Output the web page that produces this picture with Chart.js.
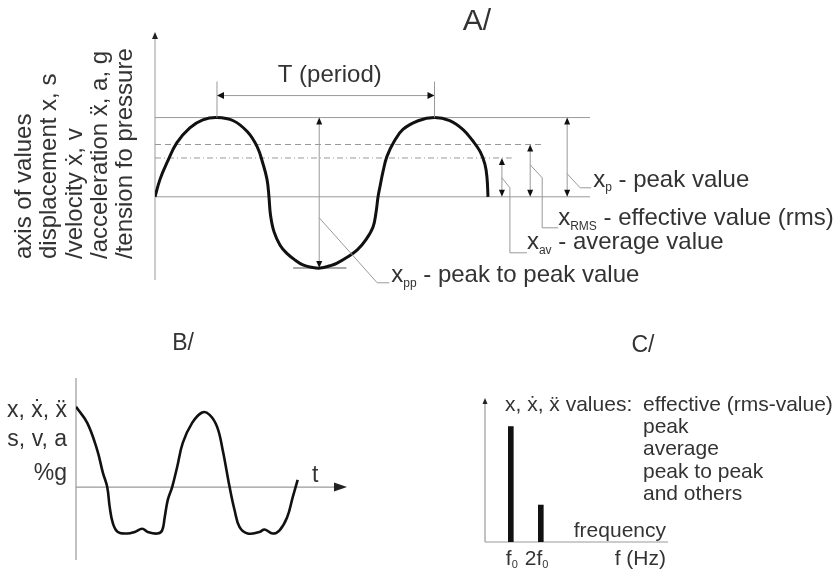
<!DOCTYPE html>
<html>
<head>
<meta charset="utf-8">
<script src="https://cdn.jsdelivr.net/npm/chart.js@4"></script>
<style>
  html, body { margin: 0; padding: 0; background: #fff; }
  #wrap { position: relative; width: 836px; height: 569px; }
  #wrap canvas { position: absolute; left: 0; top: 0; }
</style>
</head>
<body>
<div id="wrap">
  <canvas id="chartA" width="836" height="569"></canvas>
  <canvas id="chartB" width="836" height="569"></canvas>
  <canvas id="chartC" width="836" height="569"></canvas>
</div>
<script>
// ---- data ----
// A: sine-like wave, time in ms (T = 20 ms), amplitude with peak = 1
const waveA_t = [0, 0.46, 1.1, 2.0, 3.2, 4.4, 5.7, 7.2, 8.5, 9.4, 9.9, 10.3, 10.48,
  10.62, 10.94, 11.5, 12.1, 12.9, 13.6, 14.4, 15.2, 16.1, 16.7, 17.7, 18.6, 19.4, 20.05, 20.32, 20.51,
  20.69, 20.97, 21.33, 22.0, 22.8, 24.2, 25.7, 27.1, 28.3, 29.2, 29.9, 30.34, 30.53, 30.62];
const waveA_v = [0, 0.22, 0.43, 0.68, 0.87, 0.97, 1.0, 0.96, 0.82, 0.63, 0.43, 0.22, 0,
  -0.23, -0.44, -0.61, -0.71, -0.80, -0.86, -0.89, -0.90, -0.87, -0.84, -0.76, -0.67, -0.54, -0.38, -0.20, 0,
  0.13, 0.32, 0.51, 0.70, 0.85, 0.96, 1.0, 0.96, 0.85, 0.71, 0.57, 0.41, 0.24, 0];
const peakA = 1.0;
const rmsA = 0.66;
const avA = 0.49;
const troughA = -0.90;
const periodA = [5.7, 25.7];

// B: distorted wave
const waveB_t = [0, 1.8, 3.4, 4.3, 5.0, 5.4, 5.9, 6.7, 8.2, 9.4, 10.6, 11.5, 13.0, 13.8, 14.2, 14.7, 15.4, 16.2, 17.1, 18.6, 20.2, 21.4, 22.6, 23.5, 24.6, 25.4, 26.2, 27.5, 29.4, 30.2, 31.5, 32.6, 33.8, 34.7, 35.5];
const waveB_v = [1.0, 0.80, 0.46, 0.18, 0, -0.25, -0.45, -0.56, -0.58, -0.56, -0.52, -0.56, -0.58, -0.54, -0.38, -0.16, 0, 0.25, 0.55, 0.80, 0.93, 0.90, 0.75, 0.46, 0, -0.29, -0.50, -0.58, -0.56, -0.53, -0.58, -0.54, -0.38, -0.13, 0.09];

// C: spectrum lines at f0 and 2f0 (Hz)
const spectrumF = [50, 100];
const spectrumAmp = [1.0, 0.32];
const spectrumLabels = [['f', '0'], ['2f', '0']];

// texts
const axisTextA = ['axis of values', 'displacement x, s', '/velocity \u1E8B, v', '/acceleration \u1E8D, a, g', '/tension fo pressure'];
const axisTextB = ['x, \u1E8B, \u1E8D', 's, v, a', '%g'];
const valueKinds = ['effective (rms-value)', 'peak', 'average', 'peak to peak', 'and others'];

// ---- drawing helpers ----
const FONT = '"Liberation Sans", Arial, "DejaVu Sans", sans-serif';
const INK = '#333';
const GREY = '#999';
const CURVE = '#111';

function line(ctx, pts, color, width, dash) {
  ctx.save();
  ctx.strokeStyle = color;
  ctx.lineWidth = width;
  ctx.setLineDash(dash || []);
  ctx.beginPath();
  pts.forEach((p, i) => i ? ctx.lineTo(p[0], p[1]) : ctx.moveTo(p[0], p[1]));
  ctx.stroke();
  ctx.restore();
}

function head(ctx, x, y, dx, dy, len, half, color) {
  const bx = x - dx * len, by = y - dy * len;
  ctx.save();
  ctx.fillStyle = color || '#111';
  ctx.beginPath();
  ctx.moveTo(x, y);
  ctx.lineTo(bx - dy * half, by + dx * half);
  ctx.lineTo(bx + dy * half, by - dx * half);
  ctx.closePath();
  ctx.fill();
  ctx.restore();
}

function dimV(ctx, x, yTop, yBot) {
  line(ctx, [[x, yTop + 4], [x, yBot - 4]], GREY, 1);
  head(ctx, x, yTop, 0, -1, 7, 3);
  head(ctx, x, yBot, 0, 1, 7, 3);
}

function text(ctx, s, x, y, size, align) {
  ctx.save();
  ctx.font = size + 'px ' + FONT;
  ctx.fillStyle = INK;
  ctx.textAlign = align || 'left';
  ctx.textBaseline = 'alphabetic';
  ctx.fillText(s, x, y);
  ctx.restore();
}

function subText(ctx, x, y, base, sub, rest, size, subSize, drop) {
  ctx.save();
  ctx.fillStyle = INK;
  ctx.textBaseline = 'alphabetic';
  ctx.font = size + 'px ' + FONT;
  ctx.fillText(base, x, y);
  let w = ctx.measureText(base).width;
  ctx.font = subSize + 'px ' + FONT;
  ctx.fillText(sub, x + w, y + drop);
  w += ctx.measureText(sub).width;
  ctx.font = size + 'px ' + FONT;
  ctx.fillText(rest, x + w, y);
  ctx.restore();
}

const baseOptions = (pad, xr, yr) => ({
  responsive: false,
  animation: false,
  events: [],
  layout: { padding: pad },
  plugins: { legend: { display: false }, tooltip: { enabled: false } },
  elements: { point: { radius: 0 } },
  scales: {
    x: { type: 'linear', display: false, min: xr[0], max: xr[1], offset: false },
    y: { type: 'linear', display: false, min: yr[0], max: yr[1] }
  }
});

// ---- panel A ----
const panelA = {
  id: 'panelA',
  beforeDatasetsDraw(chart) {
    const { ctx, chartArea: ca, scales: { x, y } } = chart;
    const X = v => x.getPixelForValue(v), Y = v => y.getPixelForValue(v);
    line(ctx, [[X(0), ca.bottom], [X(0), ca.top + 5]], GREY, 1);
    head(ctx, X(0), ca.top, 0, -1, 7, 3, '#222');
    line(ctx, [[X(0), Y(0)], [ca.right, Y(0)]], GREY, 1);
    line(ctx, [[X(0), Y(peakA)], [ca.right, Y(peakA)]], GREY, 1);
    line(ctx, [[X(0), Y(rmsA)], [X(35.5), Y(rmsA)]], GREY, 1, [6, 4]);
    line(ctx, [[X(0), Y(avA)], [X(32.8), Y(avA)]], GREY, 1, [6, 3, 1, 3]);
    // trough marker
    line(ctx, [[X(12.7), Y(troughA)], [X(17.6), Y(troughA)]], '#aaa', 2);
  },
  afterDatasetsDraw(chart) {
    const { ctx, scales: { x, y } } = chart;
    const X = v => x.getPixelForValue(v), Y = v => y.getPixelForValue(v);
    const Y0 = Y(0), YP = Y(peakA);

    // period
    const p1 = X(periodA[0]), p2 = X(periodA[1]);
    line(ctx, [[p1, YP], [p1, YP - 36]], GREY, 1);
    line(ctx, [[p2, YP], [p2, YP - 36]], GREY, 1);
    line(ctx, [[p1 + 4, YP - 22], [p2 - 4, YP - 22]], GREY, 1);
    head(ctx, p1, YP - 22, -1, 0, 7, 3.5);
    head(ctx, p2, YP - 22, 1, 0, 7, 3.5);
    text(ctx, 'T (period)', (p1 + p2) / 2 + 4, YP - 36, 24, 'center');

    // peak to peak
    const pp = X(15.1);
    dimV(ctx, pp, YP, Y(troughA));
    line(ctx, [[pp, Y0 + 21], [pp + 58, Y0 + 86], [pp + 70, Y0 + 86]], GREY, 1);
    subText(ctx, pp + 72, Y0 + 85, 'x', 'pp', ' - peak to peak value', 24, 12, 5);

    // peak
    const ap = X(37.9);
    dimV(ctx, ap, YP, Y0);
    line(ctx, [[ap, Y0 - 23], [ap + 13, Y0 - 9], [ap + 24, Y0 - 9]], GREY, 1);
    subText(ctx, ap + 26, Y0 - 10, 'x', 'p', ' - peak value', 24, 12, 4);

    // rms
    const ar = X(34.5);
    dimV(ctx, ar, Y(rmsA), Y0);
    line(ctx, [[ar, Y0 - 32], [ar + 12, Y0 - 19], [ar + 12, Y0 + 31], [ar + 28, Y0 + 31]], GREY, 1);
    subText(ctx, ar + 28, Y0 + 28, 'x', 'RMS', ' - effective value (rms)', 24, 12, 5);

    // average
    const aa = X(31.9);
    dimV(ctx, aa, Y(avA), Y0);
    line(ctx, [[aa, Y0 - 19], [aa + 8, Y0 - 9], [aa + 8, Y0 + 56], [aa + 25, Y0 + 56]], GREY, 1);
    subText(ctx, aa + 25, Y0 + 52, 'x', 'av', ' - average value', 24, 12, 5);

    // rotated axis text
    ctx.save();
    ctx.font = '24px ' + FONT;
    ctx.fillStyle = INK;
    axisTextA.forEach((s, i) => {
      ctx.save();
      ctx.translate(31 + i * 25.3, 259);
      ctx.rotate(-Math.PI / 2);
      ctx.fillText(s, 0, 0);
      ctx.restore();
    });
    ctx.restore();

    text(ctx, 'A/', 477, 30, 30, 'center');
  }
};

new Chart(document.getElementById('chartA'), {
  type: 'line',
  data: {
    datasets: [{
      data: waveA_t.map((t, i) => ({ x: t, y: waveA_v[i] })),
      borderColor: CURVE,
      borderWidth: 3,
      tension: 0.4,
      fill: false
    }]
  },
  options: baseOptions({ left: 155, right: 246, top: 32, bottom: 289 }, [0, 40], [-1.05, 2.08]),
  plugins: [panelA]
});

// ---- panel B ----
const panelB = {
  id: 'panelB',
  beforeDatasetsDraw(chart) {
    const { ctx, chartArea: ca, scales: { x, y } } = chart;
    const X = v => x.getPixelForValue(v), Y = v => y.getPixelForValue(v);
    line(ctx, [[X(0), ca.bottom], [X(0), ca.top]], GREY, 1.2);
    line(ctx, [[X(0), Y(0)], [ca.right - 6, Y(0)]], GREY, 1.2);
    head(ctx, ca.right, Y(0), 1, 0, 13, 4.5, '#222');
  },
  afterDatasetsDraw(chart) {
    const { ctx, chartArea: ca, scales: { x, y } } = chart;
    const X = v => x.getPixelForValue(v), Y = v => y.getPixelForValue(v);
    const bl = [417, 446, 480];
    axisTextB.forEach((s, i) => text(ctx, s, X(0) - 9, bl[i], 23, 'right'));
    text(ctx, 't', ca.right - 35, Y(0) - 5, 23, 'left');
    text(ctx, 'B/', 183, 350, 23, 'center');
  }
};

new Chart(document.getElementById('chartB'), {
  type: 'line',
  data: {
    datasets: [{
      data: waveB_t.map((t, i) => ({ x: t, y: waveB_v[i] })),
      borderColor: CURVE,
      borderWidth: 2.6,
      tension: 0.4,
      fill: false
    }]
  },
  options: baseOptions({ left: 76, right: 836 - 347, top: 378, bottom: 569 - 560 }, [0, 43.4], [-0.91, 1.36]),
  plugins: [panelB]
});

// ---- panel C ----
const panelC = {
  id: 'panelC',
  beforeDatasetsDraw(chart) {
    const { ctx, chartArea: ca, scales: { y } } = chart;
    const Y = v => y.getPixelForValue(v);
    line(ctx, [[ca.left, Y(0)], [ca.left, ca.top + 4]], GREY, 1.2);
    head(ctx, ca.left, ca.top - 2, 0, -1, 6, 2.5, '#222');
    line(ctx, [[ca.left, Y(0)], [ca.right, Y(0)]], GREY, 1.2);
  },
  afterDatasetsDraw(chart) {
    const { ctx, chartArea: ca, scales: { x } } = chart;
    const X = v => x.getPixelForValue(v);
    text(ctx, 'x, \u1E8B, \u1E8D values:', ca.left + 20, 411, 21, 'left');
    valueKinds.forEach((s, i) => text(ctx, s, 643, 411 + i * 22.2, 21, 'left'));
    text(ctx, 'frequency', ca.right - 2, 537, 21, 'right');
    text(ctx, 'f (Hz)', ca.right - 2, 565, 21, 'right');
    subText(ctx, X(spectrumF[0]) - 5, 565, spectrumLabels[0][0], spectrumLabels[0][1], '', 21, 11, 3);
    subText(ctx, X(spectrumF[1]) - 16, 565, spectrumLabels[1][0], spectrumLabels[1][1], '', 21, 11, 3);
    text(ctx, 'C/', 643, 352, 23, 'center');
  }
};

new Chart(document.getElementById('chartC'), {
  type: 'bar',
  data: {
    datasets: [{
      data: spectrumF.map((f, i) => ({ x: f, y: spectrumAmp[i] })),
      backgroundColor: CURVE,
      borderWidth: 0,
      barThickness: 5
    }]
  },
  options: baseOptions({ left: 485, right: 836 - 668, top: 400, bottom: 569 - 542 }, [7, 312], [0, 1.23]),
  plugins: [panelC]
});
</script>
</body>
</html>
